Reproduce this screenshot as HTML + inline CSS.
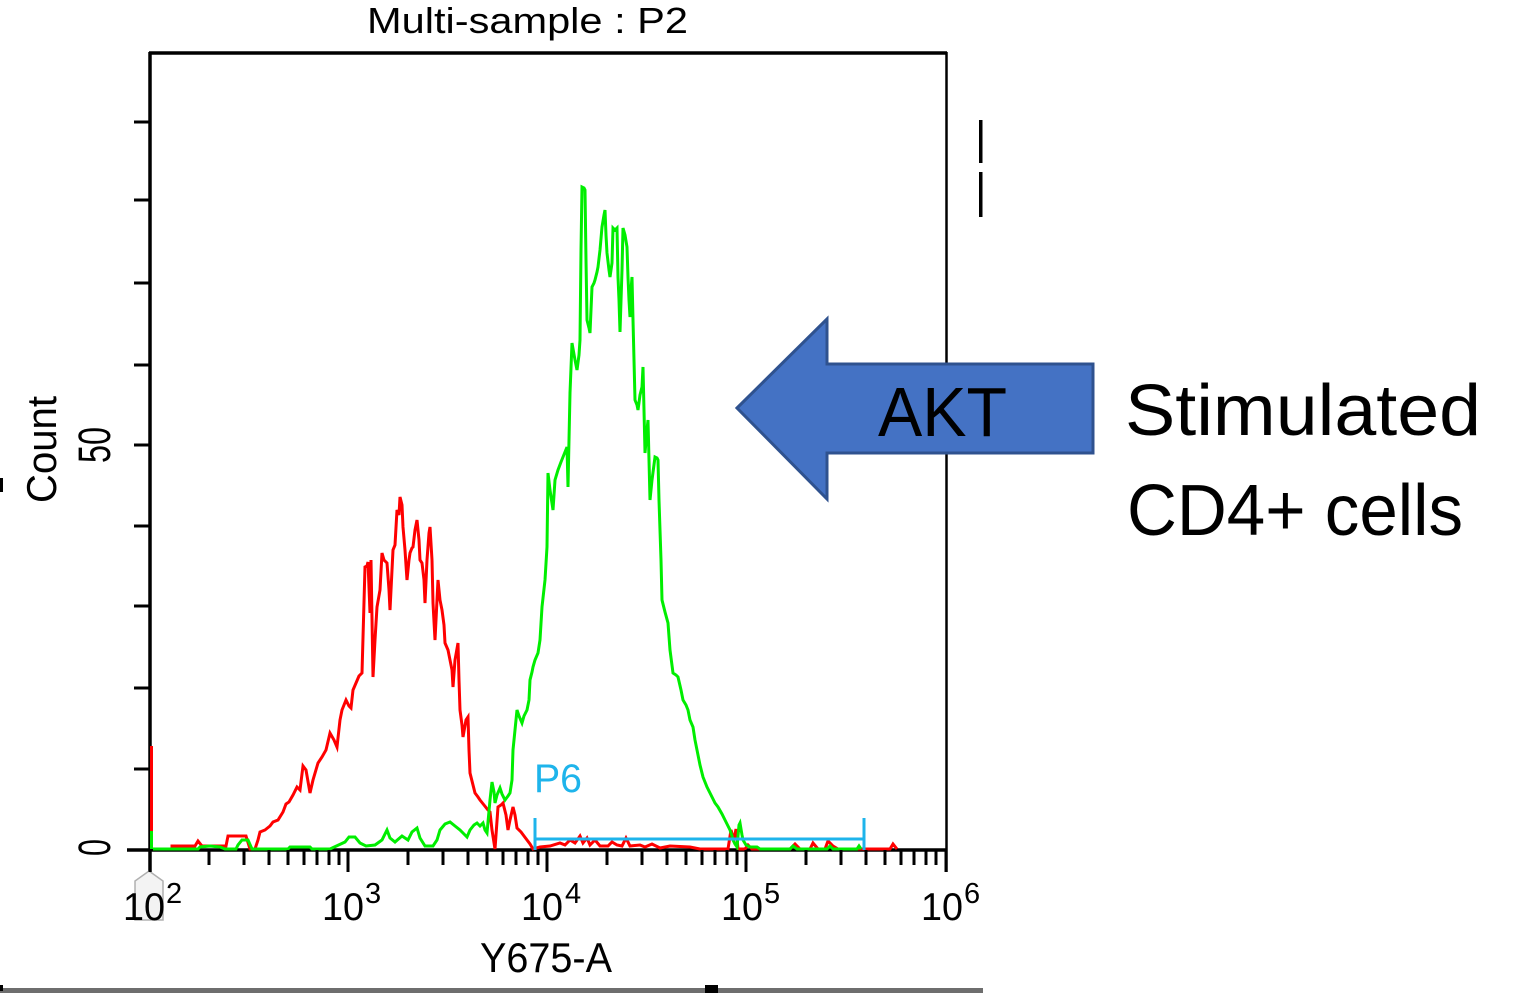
<!DOCTYPE html>
<html><head><meta charset="utf-8"><style>
html,body{margin:0;padding:0;background:#fff;}
svg{display:block;}
text{font-family:"Liberation Sans",Arial,sans-serif;}
</style></head><body>
<svg width="1536" height="993" viewBox="0 0 1536 993" xmlns="http://www.w3.org/2000/svg">
<rect width="1536" height="993" fill="#fff"/>
<!-- title -->
<text x="367" y="33" font-size="36" textLength="321" lengthAdjust="spacingAndGlyphs" fill="#000">Multi-sample : P2</text>
<!-- frame -->
<line x1="149" y1="53" x2="947" y2="53" stroke="#000" stroke-width="3.5"/>
<line x1="150" y1="52" x2="150" y2="872" stroke="#000" stroke-width="3.5"/>
<line x1="946.5" y1="52" x2="946.5" y2="872" stroke="#000" stroke-width="2.5"/>
<line x1="127" y1="850" x2="947" y2="850" stroke="#000" stroke-width="3.5"/>
<!-- y ticks -->
<g stroke="#000" stroke-width="3">
<line x1="134" y1="769" x2="150" y2="769"/>
<line x1="134" y1="688" x2="150" y2="688"/>
<line x1="134" y1="606" x2="150" y2="606"/>
<line x1="134" y1="526" x2="150" y2="526"/>
<line x1="134" y1="445" x2="150" y2="445"/>
<line x1="134" y1="365" x2="150" y2="365"/>
<line x1="134" y1="283" x2="150" y2="283"/>
<line x1="134" y1="200" x2="150" y2="200"/>
<line x1="134" y1="122" x2="150" y2="122"/>
</g>
<!-- y labels -->
<text transform="translate(56,503) rotate(-90)" font-size="42" textLength="107" lengthAdjust="spacingAndGlyphs">Count</text>
<text transform="translate(110,463) rotate(-90)" font-size="45" textLength="36" lengthAdjust="spacingAndGlyphs">50</text>
<text transform="translate(110,856) rotate(-90)" font-size="45" textLength="17" lengthAdjust="spacingAndGlyphs">0</text>
<!-- marker at 10^2 -->
<polygon points="149,871 163,881 163,920 135,920 135,881" fill="#f3f3f3" stroke="#b0b0b0" stroke-width="1.5"/>
<!-- x labels -->
<g font-size="39">
<text x="123" y="920" textLength="42" lengthAdjust="spacingAndGlyphs">10</text>
<text x="322" y="920" textLength="42" lengthAdjust="spacingAndGlyphs">10</text>
<text x="521" y="920" textLength="42" lengthAdjust="spacingAndGlyphs">10</text>
<text x="721" y="920" textLength="42" lengthAdjust="spacingAndGlyphs">10</text>
<text x="921" y="920" textLength="42" lengthAdjust="spacingAndGlyphs">10</text>
</g>
<g font-size="29">
<text x="166" y="903">2</text>
<text x="365" y="903">3</text>
<text x="565" y="903">4</text>
<text x="764" y="903">5</text>
<text x="964" y="903">6</text>
</g>
<text x="480" y="972" font-size="42" textLength="132" lengthAdjust="spacingAndGlyphs">Y675-A</text>

<!-- red series -->
<g fill="none" stroke="#ff0000" stroke-width="3" stroke-linejoin="miter">
<line x1="151.5" y1="849" x2="151.5" y2="746"/>
<polyline points="153,849 172,849 172,846 195,846 198,841 202,846 226,846 228,836 246,836 250,849 255,849 258,840 260,832 265,830 270,826 273,822 278,820 283,812 286,804 289,802 293,795 297,787 300,790 303,766 306,770 310,793 313,780 318,763 322,757 326,750 330,733 334,740 337,747 340,720 342,710 346,700 349,706 351,708 353,690 356,683 359,676 362,673 365,567 367,566 368,562 370,613 371,560 373,677 375,640 377,607 380,590 382,553 384,560 387,563 389,590 390,610 392,570 393,550 395,545 397,510 399,515 400,497 402,505 403,527 405,550 407,580 409,560 410,553 412,548 413,547 415,530 417,520 419,540 420,560 422,563 424,580 425,603 427,560 429,533 430,527 432,560 433,603 435,640 437,600 438,580 440,600 442,610 444,625 445,643 448,650 450,660 452,670 453,687 455,660 458,643 459,680 460,710 462,725 463,737 466,720 468,717 469,750 470,773 473,785 475,793 478,797 480,800 484,805 488,810 490,812 492,830 495,849 496,835 498,807 501,805 503,803 506,815 508,830 510,820 513,807 515,815 517,828 521,832 524,836 527,840 530,844 533,849 540,847 550,846 560,843 565,845 570,840 575,843 580,836 583,843 587,838 590,845 595,840 600,846 608,846 612,842 617,845 622,846 626,838 630,846 640,845 645,847 652,844 660,848 670,846 690,847 700,849 728,849 731,830 734,840 736,829 738,849 745,849 748,845 752,849 790,849 795,844 800,849 810,849 813,843 818,849 825,849 828,841 833,846 838,849 890,849 893,844 897,849"/>
</g>
<!-- green series -->
<g fill="none" stroke="#00ee00" stroke-width="3">
<line x1="151.5" y1="849" x2="151.5" y2="831"/>
<polyline points="153,849 198,849 200,847 210,846 220,847 225,849 236,849 238,845 242,840 248,840 252,849 288,849 290,847 310,847 312,849 330,849 345,842 349,837 355,837 360,843 366,846 375,845 382,840 387,830 390,838 395,842 402,836 408,840 412,832 417,828 420,838 425,846 433,846 437,840 440,830 445,824 450,822 455,826 460,830 464,834 467,837 470,830 474,825 477,823 480,826 483,823 485,830 487,833 490,800 492,782 494,792 495,803 497,795 500,788 502,794 505,800 508,796 510,793 512,780 513,750 515,730 517,710 519,716 522,723 524,716 527,710 529,700 530,680 532,672 533,667 535,660 538,653 540,640 542,607 545,580 547,547 548,473 550,490 553,510 555,480 558,470 561,462 563,457 565,452 567,447 568,487 569,440 570,393 572,343 575,360 577,370 579,355 580,340 581,250 582,187 584,188 585,190 586,260 587,320 589,328 590,333 592,287 594,283 595,280 597,272 598,267 600,250 602,227 604,215 605,210 606,235 607,253 609,270 610,277 612,263 613,228 615,230 617,228 618,277 619,300 620,332 622,270 623,228 625,235 627,247 628,277 629,300 630,317 631,290 632,277 633,320 634,360 635,400 637,405 638,410 640,395 642,387 643,367 644,410 645,453 647,430 648,420 649,460 650,500 652,480 655,457 657,458 658,460 659,500 660,530 661,560 662,600 665,612 668,623 670,650 673,673 676,675 678,677 681,690 683,700 686,705 688,710 690,720 693,727 695,740 697,750 700,765 703,777 707,787 712,797 715,803 718,807 722,814 725,820 728,826 730,830 732,836 733,840 735,844 737,847 739,825 740,823 742,835 743,840 746,845 750,847 757,847 760,849 790,849 793,846 797,849 827,849 830,846 833,849 857,849 859,846 861,849"/>
</g>
<!-- P6 gate -->
<g stroke="#1eb4eb" stroke-width="3" fill="none">
<line x1="535" y1="839" x2="864" y2="839"/>
<line x1="535" y1="818" x2="535" y2="850"/>
<line x1="864" y1="818" x2="864" y2="850"/>
</g>
<text x="534" y="792" font-size="40" fill="#1eb4eb" textLength="48" lengthAdjust="spacingAndGlyphs">P6</text>

<!-- right marks -->
<rect x="979" y="120" width="3.5" height="43" fill="#000"/>
<rect x="979" y="172" width="3.5" height="45" fill="#000"/>
<!-- bottom line -->
<rect x="0" y="988" width="983" height="5" fill="#6e6e6e"/>
<rect x="705" y="985" width="13" height="8" fill="#000"/>
<rect x="0" y="985" width="3" height="6" fill="#000"/>
<rect x="0" y="478" width="3" height="14" fill="#000"/>

<!-- arrow -->
<polygon points="737,408 827,319 827,364 1093,364 1093,453 827,453 827,499" fill="#4472c4" stroke="#2f528f" stroke-width="3" stroke-linejoin="miter"/>
<text x="878" y="436" font-size="70" textLength="129" lengthAdjust="spacingAndGlyphs" fill="#000">AKT</text>
<text x="1125" y="435" font-size="72" textLength="356" lengthAdjust="spacingAndGlyphs" fill="#000">Stimulated</text>
<text x="1127" y="535" font-size="72" textLength="336" lengthAdjust="spacingAndGlyphs" fill="#000">CD4+ cells</text>

<g stroke="#000" stroke-width="3">
<line x1="150" y1="850" x2="150" y2="872"/>
<line x1="209" y1="850" x2="209" y2="865"/>
<line x1="244" y1="850" x2="244" y2="865"/>
<line x1="269" y1="850" x2="269" y2="865"/>
<line x1="288" y1="850" x2="288" y2="865"/>
<line x1="304" y1="850" x2="304" y2="865"/>
<line x1="317" y1="850" x2="317" y2="865"/>
<line x1="329" y1="850" x2="329" y2="865"/>
<line x1="339" y1="850" x2="339" y2="865"/>
<line x1="348" y1="850" x2="348" y2="872"/>
<line x1="408" y1="850" x2="408" y2="865"/>
<line x1="443" y1="850" x2="443" y2="865"/>
<line x1="468" y1="850" x2="468" y2="865"/>
<line x1="487" y1="850" x2="487" y2="865"/>
<line x1="503" y1="850" x2="503" y2="865"/>
<line x1="516" y1="850" x2="516" y2="865"/>
<line x1="528" y1="850" x2="528" y2="865"/>
<line x1="538" y1="850" x2="538" y2="865"/>
<line x1="547" y1="850" x2="547" y2="872"/>
<line x1="607" y1="850" x2="607" y2="865"/>
<line x1="642" y1="850" x2="642" y2="865"/>
<line x1="667" y1="850" x2="667" y2="865"/>
<line x1="686" y1="850" x2="686" y2="865"/>
<line x1="702" y1="850" x2="702" y2="865"/>
<line x1="715" y1="850" x2="715" y2="865"/>
<line x1="727" y1="850" x2="727" y2="865"/>
<line x1="737" y1="850" x2="737" y2="865"/>
<line x1="746" y1="850" x2="746" y2="872"/>
<line x1="806" y1="850" x2="806" y2="865"/>
<line x1="841" y1="850" x2="841" y2="865"/>
<line x1="866" y1="850" x2="866" y2="865"/>
<line x1="885" y1="850" x2="885" y2="865"/>
<line x1="901" y1="850" x2="901" y2="865"/>
<line x1="914" y1="850" x2="914" y2="865"/>
<line x1="926" y1="850" x2="926" y2="865"/>
<line x1="936" y1="850" x2="936" y2="865"/>
<line x1="946" y1="850" x2="946" y2="872"/>
</g>
</svg>
</body></html>
